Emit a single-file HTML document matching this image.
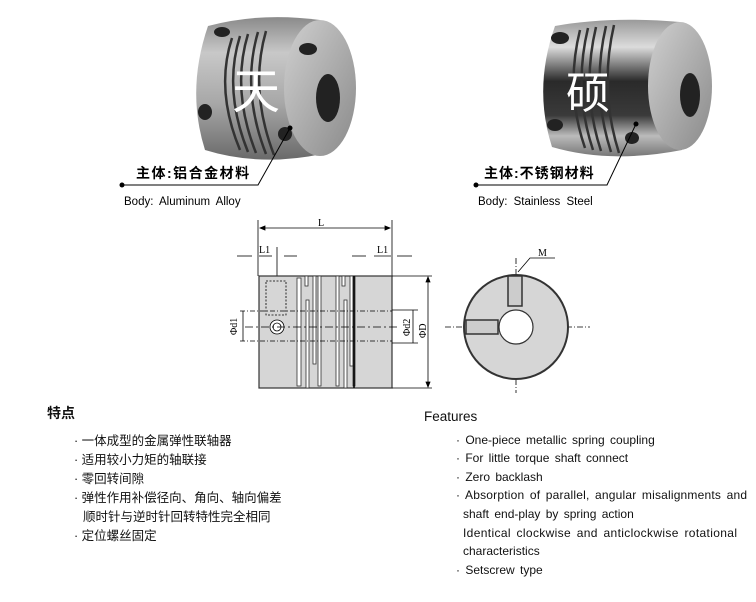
<!DOCTYPE html>
<html><head><meta charset="utf-8"><style>
html,body{margin:0;padding:0;background:#fff;width:756px;height:602px;overflow:hidden}
svg{display:block}
.cn{font-family:"Liberation Sans","Noto Sans CJK SC",sans-serif}
.en{font-family:"Liberation Sans",sans-serif}
</style></head><body>
<svg width="756" height="602" viewBox="0 0 756 602" xmlns="http://www.w3.org/2000/svg">
<defs>
<linearGradient id="al" x1="0" y1="0" x2="0" y2="1">
<stop offset="0" stop-color="#8a8a8a"/><stop offset="0.25" stop-color="#c8c8c8"/><stop offset="0.6" stop-color="#a8a8a8"/><stop offset="1" stop-color="#6a6a6a"/></linearGradient>
<linearGradient id="ss" x1="0" y1="0" x2="0" y2="1">
<stop offset="0" stop-color="#9a9a9a"/><stop offset="0.2" stop-color="#dcdcdc"/><stop offset="0.45" stop-color="#2a2a2a"/><stop offset="0.7" stop-color="#3a3a3a"/><stop offset="0.85" stop-color="#bbb"/><stop offset="1" stop-color="#777"/></linearGradient>
<linearGradient id="face" x1="0" y1="0" x2="1" y2="1">
<stop offset="0" stop-color="#d0d0d0"/><stop offset="1" stop-color="#8a8a8a"/></linearGradient>
</defs>
<g>
<path d="M208,26 Q260,12 320,20 L322,154 Q260,167 205,150 Q186,90 208,26Z" fill="url(#al)"/>
<ellipse cx="320" cy="88" rx="36" ry="68" fill="url(#face)"/>
<ellipse cx="328" cy="98" rx="12" ry="24" fill="#222"/>
<g stroke="#333" stroke-width="2.5" fill="none">
<path d="M232,38 Q215,90 240,150"/><path d="M240,36 Q223,90 248,152"/><path d="M248,34 Q231,90 256,153"/><path d="M258,32 Q241,90 266,154"/><path d="M266,31 Q249,90 274,155"/>
</g>
<ellipse cx="222" cy="32" rx="8" ry="5" fill="#222"/>
<ellipse cx="308" cy="49" rx="9" ry="6" fill="#222"/>
<ellipse cx="205" cy="112" rx="7" ry="8" fill="#222"/>
<ellipse cx="285" cy="134" rx="7" ry="7" fill="#222"/>
<text x="232" y="108" class="cn" font-size="48" fill="#fff">天</text>
</g>
<g>
<path d="M555,26 Q610,16 680,22 L682,150 Q610,164 552,147 Q533,88 555,26Z" fill="url(#ss)"/>
<ellipse cx="680" cy="86" rx="32" ry="64" fill="url(#face)"/>
<ellipse cx="690" cy="95" rx="10" ry="22" fill="#222"/>
<g stroke="#333" stroke-width="2.5" fill="none">
<path d="M580,30 Q565,90 585,148"/><path d="M588,28 Q573,90 593,150"/><path d="M596,27 Q581,90 601,151"/><path d="M606,26 Q591,90 611,152"/><path d="M614,25 Q599,90 619,153"/>
</g>
<ellipse cx="560" cy="38" rx="9" ry="6" fill="#222"/>
<ellipse cx="555" cy="125" rx="8" ry="6" fill="#222"/>
<ellipse cx="632" cy="138" rx="7" ry="6" fill="#222"/>
<text x="566" y="108" class="cn" font-size="44" fill="#fff">硕</text>
</g>
<circle cx="122" cy="185" r="2.5" fill="#000"/>
<polyline points="122,185 258,185 290,128" fill="none" stroke="#000" stroke-width="1"/>
<circle cx="290" cy="128" r="2.5" fill="#000"/>
<text x="136" y="178" class="cn" font-size="14" font-weight="bold" letter-spacing="1.5">主体:铝合金材料</text>
<text x="124" y="205" class="en" font-size="11.5" word-spacing="3">Body: Aluminum Alloy</text>
<circle cx="476" cy="185" r="2.5" fill="#000"/>
<polyline points="476,185 607,185 636,124" fill="none" stroke="#000" stroke-width="1"/>
<circle cx="636" cy="124" r="2.5" fill="#000"/>
<text x="484" y="178" class="cn" font-size="14" font-weight="bold" letter-spacing="1">主体:不锈钢材料</text>
<text x="478" y="205" class="en" font-size="11.5" word-spacing="3">Body: Stainless Steel</text>
<g stroke="#000" stroke-width="0.8" fill="none">
<line x1="258" y1="220" x2="258" y2="276"/><line x1="392" y1="220" x2="392" y2="276"/>
<line x1="260" y1="228" x2="390" y2="228"/>
<path d="M260,228 l5,-2 v4z M390,228 l-5,-2 v4z" fill="#000"/>
<line x1="237" y1="256" x2="252" y2="256"/><line x1="259" y1="256" x2="272" y2="256"/><line x1="284" y1="256" x2="297" y2="256"/>
<line x1="352" y1="256" x2="366" y2="256"/><line x1="374" y1="256" x2="391" y2="256"/><line x1="397" y1="256" x2="412" y2="256"/>
<line x1="277" y1="247" x2="277" y2="330"/>
<rect x="259" y="276" width="133" height="112" fill="#d6d6d6" stroke="#333" stroke-width="1.2"/>
<g fill="#fff" stroke="#333">
<rect x="297" y="278" width="4" height="108"/><rect x="305" y="276" width="3" height="10"/><rect x="306" y="300" width="3" height="88"/>
<rect x="313" y="276" width="3" height="88"/><rect x="318" y="276" width="3" height="110"/>
<rect x="336" y="276" width="3" height="110"/><rect x="342" y="276" width="3" height="10"/><rect x="344" y="300" width="3" height="88"/>
<rect x="350" y="276" width="3" height="90"/><rect x="353" y="276" width="2" height="110"/>
</g>
<line x1="354" y1="276" x2="354" y2="388" stroke-width="1.5"/>
<rect x="266" y="281" width="20" height="34" stroke-dasharray="2,1.5"/>
<circle cx="277" cy="327" r="7" fill="#fff"/><circle cx="277" cy="327" r="4"/>
<line x1="240" y1="311" x2="392" y2="311" stroke-dasharray="5,2,1,2"/>
<line x1="240" y1="341" x2="392" y2="341" stroke-dasharray="5,2,1,2"/>
<line x1="245" y1="327" x2="400" y2="327" stroke-dasharray="8,3,2,3"/>
<line x1="243" y1="311" x2="243" y2="341"/>
<line x1="392" y1="310" x2="418" y2="310"/><line x1="392" y1="343" x2="418" y2="343"/>
<line x1="413" y1="310" x2="413" y2="343"/>
<line x1="392" y1="276" x2="432" y2="276"/><line x1="392" y1="388" x2="432" y2="388"/>
<line x1="428" y1="277" x2="428" y2="387"/>
<path d="M428,277 l-2,5 h4z M428,387 l-2,-5 h4z" fill="#000"/>
<line x1="445" y1="327" x2="590" y2="327" stroke-dasharray="6,2,1,2"/>
<line x1="516" y1="258" x2="516" y2="393" stroke-dasharray="6,2,1,2"/>
<circle cx="516" cy="327" r="52" fill="#d6d6d6" stroke="#333" stroke-width="2"/>
<circle cx="516" cy="327" r="17" fill="#fff" stroke="#333" stroke-width="1.2"/>
<rect x="508" y="276" width="14" height="30" fill="#ccc" stroke="#333" stroke-width="1.5"/>
<rect x="466" y="320" width="32" height="14" fill="#ccc" stroke="#333" stroke-width="1.5"/>
<polyline points="518,272 530,258 555,258"/>
</g>
<g font-family="Liberation Serif" font-size="10" fill="#000">
<text x="318" y="226">L</text>
<text x="259" y="253">L1</text><text x="377" y="253">L1</text>
<text x="538" y="256">M</text>
<text transform="translate(237,335) rotate(-90)">Φd1</text>
<text transform="translate(410,336) rotate(-90)">Φd2</text>
<text transform="translate(426,338) rotate(-90)">ΦD</text>
</g>
<g class="cn" font-size="12.5" fill="#111">
<text x="47" y="418" font-size="14" font-weight="bold">特点</text>
<text x="74" y="445">· 一体成型的金属弹性联轴器</text>
<text x="74" y="464">· 适用较小力矩的轴联接</text>
<text x="74" y="483">· 零回转间隙</text>
<text x="74" y="502">· 弹性作用补偿径向、角向、轴向偏差</text>
<text x="83" y="521">顺时针与逆时针回转特性完全相同</text>
<text x="74" y="540">· 定位螺丝固定</text>
</g>
<g class="en" font-size="12" fill="#111" word-spacing="2">
<text x="424" y="421" font-size="13.5" word-spacing="0">Features</text>
<text x="456" y="444">· One-piece metallic spring coupling</text>
<text x="456" y="462">· For little torque shaft connect</text>
<text x="456" y="481">· Zero backlash</text>
<text x="456" y="499" textLength="291" lengthAdjust="spacing">· Absorption of parallel, angular misalignments and</text>
<text x="463" y="518">shaft end-play by spring action</text>
<text x="463" y="537" textLength="274" lengthAdjust="spacing">Identical clockwise and anticlockwise rotational</text>
<text x="463" y="555">characteristics</text>
<text x="456" y="574">· Setscrew type</text>
</g>
</svg>
</body></html>
